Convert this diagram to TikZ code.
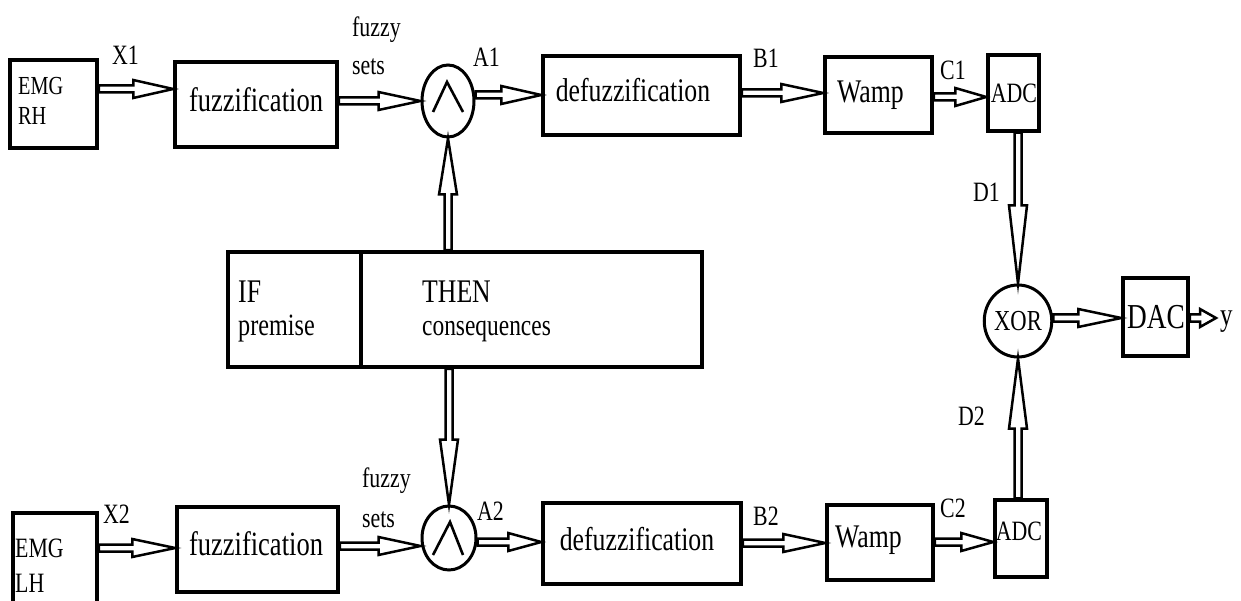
\documentclass[tikz,border=0pt]{standalone}
\usepackage{fontspec}
\setmainfont{Liberation Serif}[FakeStretch=0.78]
\usetikzlibrary{calc,shapes.geometric}

\newcommand\fs[1]{\fontsize{#1}{#1}\selectfont}

\tikzset{
  blk/.style={draw, line width=3.5pt, inner sep=0pt},
  gate/.style={draw, ellipse, line width=3pt, inner sep=0pt},
  wedgeline/.style={line width=2.6pt, line join=miter},
  arrowline/.style={draw, line width=2.5pt, line join=miter, fill=white},
  lbl/.style={inner sep=0pt, anchor=base west, font=\fs{28}},
  txt/.style={inner sep=0pt, anchor=base, font=\fs{34}},
  txtl/.style={inner sep=0pt, anchor=base west, font=\fs{33}},
}

% hollow block arrow from #2 to #3, head length #1
\newcommand\harrow[3][40]{%
  \path (#2) coordinate (ha-s) (#3) coordinate (ha-e);
  \path ($(ha-e)!#1pt!(ha-s)$) coordinate (ha-b);
  \draw[arrowline] ($(ha-s)!3.5pt!90:(ha-e)$) -- ($(ha-b)!3.5pt!90:(ha-e)$)
    -- ($(ha-b)!9pt!90:(ha-e)$) -- (ha-e) -- ($(ha-b)!9pt!-90:(ha-e)$)
    -- ($(ha-b)!3.5pt!-90:(ha-e)$) -- ($(ha-s)!3.5pt!-90:(ha-e)$) -- cycle;
}

\begin{document}
\begin{tikzpicture}[x=1pt,y=-1pt]
\useasboundingbox (0,0) rectangle (1241,601);

% ---------- upper channel ----------
\node[blk, minimum width=87pt, minimum height=88pt] (emg1) at (53.5,104) {};
\node[txtl, font=\fs{26}] (emg1a) at (18,95) {EMG};
\node[txtl, font=\fs{26}] (emg1b) at (18,125) {RH};

\node[blk, minimum width=162pt, minimum height=85pt] (fuzz1) at (256,104.5) {};
\node[txt] (fuzz1t) at (256,112) {fuzzification};

\node[gate, minimum width=52pt, minimum height=72pt] (and1) at (448,101) {};
\draw[wedgeline] ($(and1)+(-15,11)$) -- ($(and1)+(-1,-19)$) -- ($(and1)+(15,11)$);

\node[blk, minimum width=197pt, minimum height=79pt] (defz1) at (641.5,95.5) {};
\node[txt, font=\fs{33}] (defz1t) at (633,102) {defuzzification};

\node[blk, minimum width=107pt, minimum height=76pt] (wamp1) at (878.5,95) {};
\node[txtl] (wamp1t) at (837,103) {Wamp};

\node[blk, minimum width=51pt, minimum height=76pt] (adc1) at (1013.5,93) {};
\node[txt, font=\fs{28}] (adc1t) at (1014,103) {ADC};

% ---------- rule base ----------
\node[blk, minimum width=474pt, minimum height=115pt] (rule) at (465,309.5) {};
\draw[line width=3.5pt] (rule.north -| 361,0) -- (rule.south -| 361,0);
\node[txtl] (ift) at (238,302) {IF};
\node[txtl, font=\fs{31}] (premt) at (238,335) {premise};
\node[txtl] (thent) at (422,302) {THEN};
\node[txtl, font=\fs{30}] (const) at (422,335) {consequences};

% ---------- output stage ----------
\node[gate, minimum width=53pt, minimum height=72pt, font=\fs{29}] (xor) at (1018,321) {XOR};
\node[blk, minimum width=65pt, minimum height=78pt] (dac) at (1155.5,317) {};
\node[txt, font=\fs{35}] (dact) at (1156,328) {DAC};
\coordinate (yend) at (1216,318);
\node[lbl, font=\fs{32}] (ylbl) at (1220,325) {y};

% ---------- lower channel ----------
\node[blk, minimum width=84pt, minimum height=107pt] (emg2) at (55,566.5) {};
\node[txtl, font=\fs{28}] (emg2a) at (15,557) {EMG};
\node[txtl, font=\fs{28}] (emg2b) at (15,592) {LH};

\node[blk, minimum width=161pt, minimum height=85pt] (fuzz2) at (257.5,549.5) {};
\node[txt] (fuzz2t) at (256,555) {fuzzification};

\node[gate, minimum width=54pt, minimum height=64pt] (and2) at (449,538) {};
\draw[wedgeline] ($(and2)+(-16,17)$) -- ($(and2)+(1,-16)$) -- ($(and2)+(14,17)$);

\node[blk, minimum width=198pt, minimum height=81pt] (defz2) at (642,543.5) {};
\node[txt, font=\fs{33}] (defz2t) at (637,550) {defuzzification};

\node[blk, minimum width=106pt, minimum height=75pt] (wamp2) at (880,542.5) {};
\node[txtl] (wamp2t) at (835,547) {Wamp};

\node[blk, minimum width=52pt, minimum height=77pt] (adc2) at (1021,538.5) {};
\node[txt, font=\fs{28}] (adc2t) at (1019,540) {ADC};

% ---------- connectors ----------
\harrow{emg1.east |- 0,89}{fuzz1.west |- 0,89}
\harrow[42]{fuzz1.east |- 0,101}{and1.west}
\harrow{and1.east |- 0,95}{defz1.west |- 0,95}
\harrow[42]{defz1.east |- 0,93}{wamp1.west |- 0,93}
\harrow[31]{wamp1.east |- 0,97}{adc1.west |- 0,97}
\harrow[78]{adc1.south -| xor.north}{xor.north}
\harrow[70]{adc2.north -| xor.south}{xor.south}
\harrow[43]{xor.east |- 0,318}{dac.west |- 0,318}
\harrow[16]{dac.east |- 0,318}{yend}
\harrow[56]{rule.north -| and1.south}{and1.south}
\harrow[65]{rule.south -| and2.north}{and2.north}

\harrow[43]{emg2.east |- 0,548}{fuzz2.west |- 0,548}
\harrow[42]{fuzz2.east |- 0,546}{and2.west |- 0,546}
\harrow[33]{and2.east |- 0,542}{defz2.west |- 0,542}
\harrow[42]{defz2.east |- 0,543}{wamp2.west |- 0,543}
\harrow[32]{wamp2.east |- 0,542}{adc2.west |- 0,542}

% ---------- signal labels ----------
\node[lbl] (x1) at (112,65) {X1};
\node[lbl] (fs1a) at (352,37) {fuzzy};
\node[lbl] (fs1b) at (352,75) {sets};
\node[lbl] (a1) at (473,67) {A1};
\node[lbl] (b1) at (753,68) {B1};
\node[lbl] (c1) at (940,80) {C1};
\node[lbl] (d1) at (973,202) {D1};
\node[lbl] (d2) at (958,425) {D2};
\node[lbl] (x2) at (103,523) {X2};
\node[lbl] (fs2a) at (362,487) {fuzzy};
\node[lbl] (fs2b) at (362,527) {sets};
\node[lbl] (a2) at (477,520) {A2};
\node[lbl] (b2) at (753,525) {B2};
\node[lbl] (c2) at (940,517) {C2};
\end{tikzpicture}
\end{document}
